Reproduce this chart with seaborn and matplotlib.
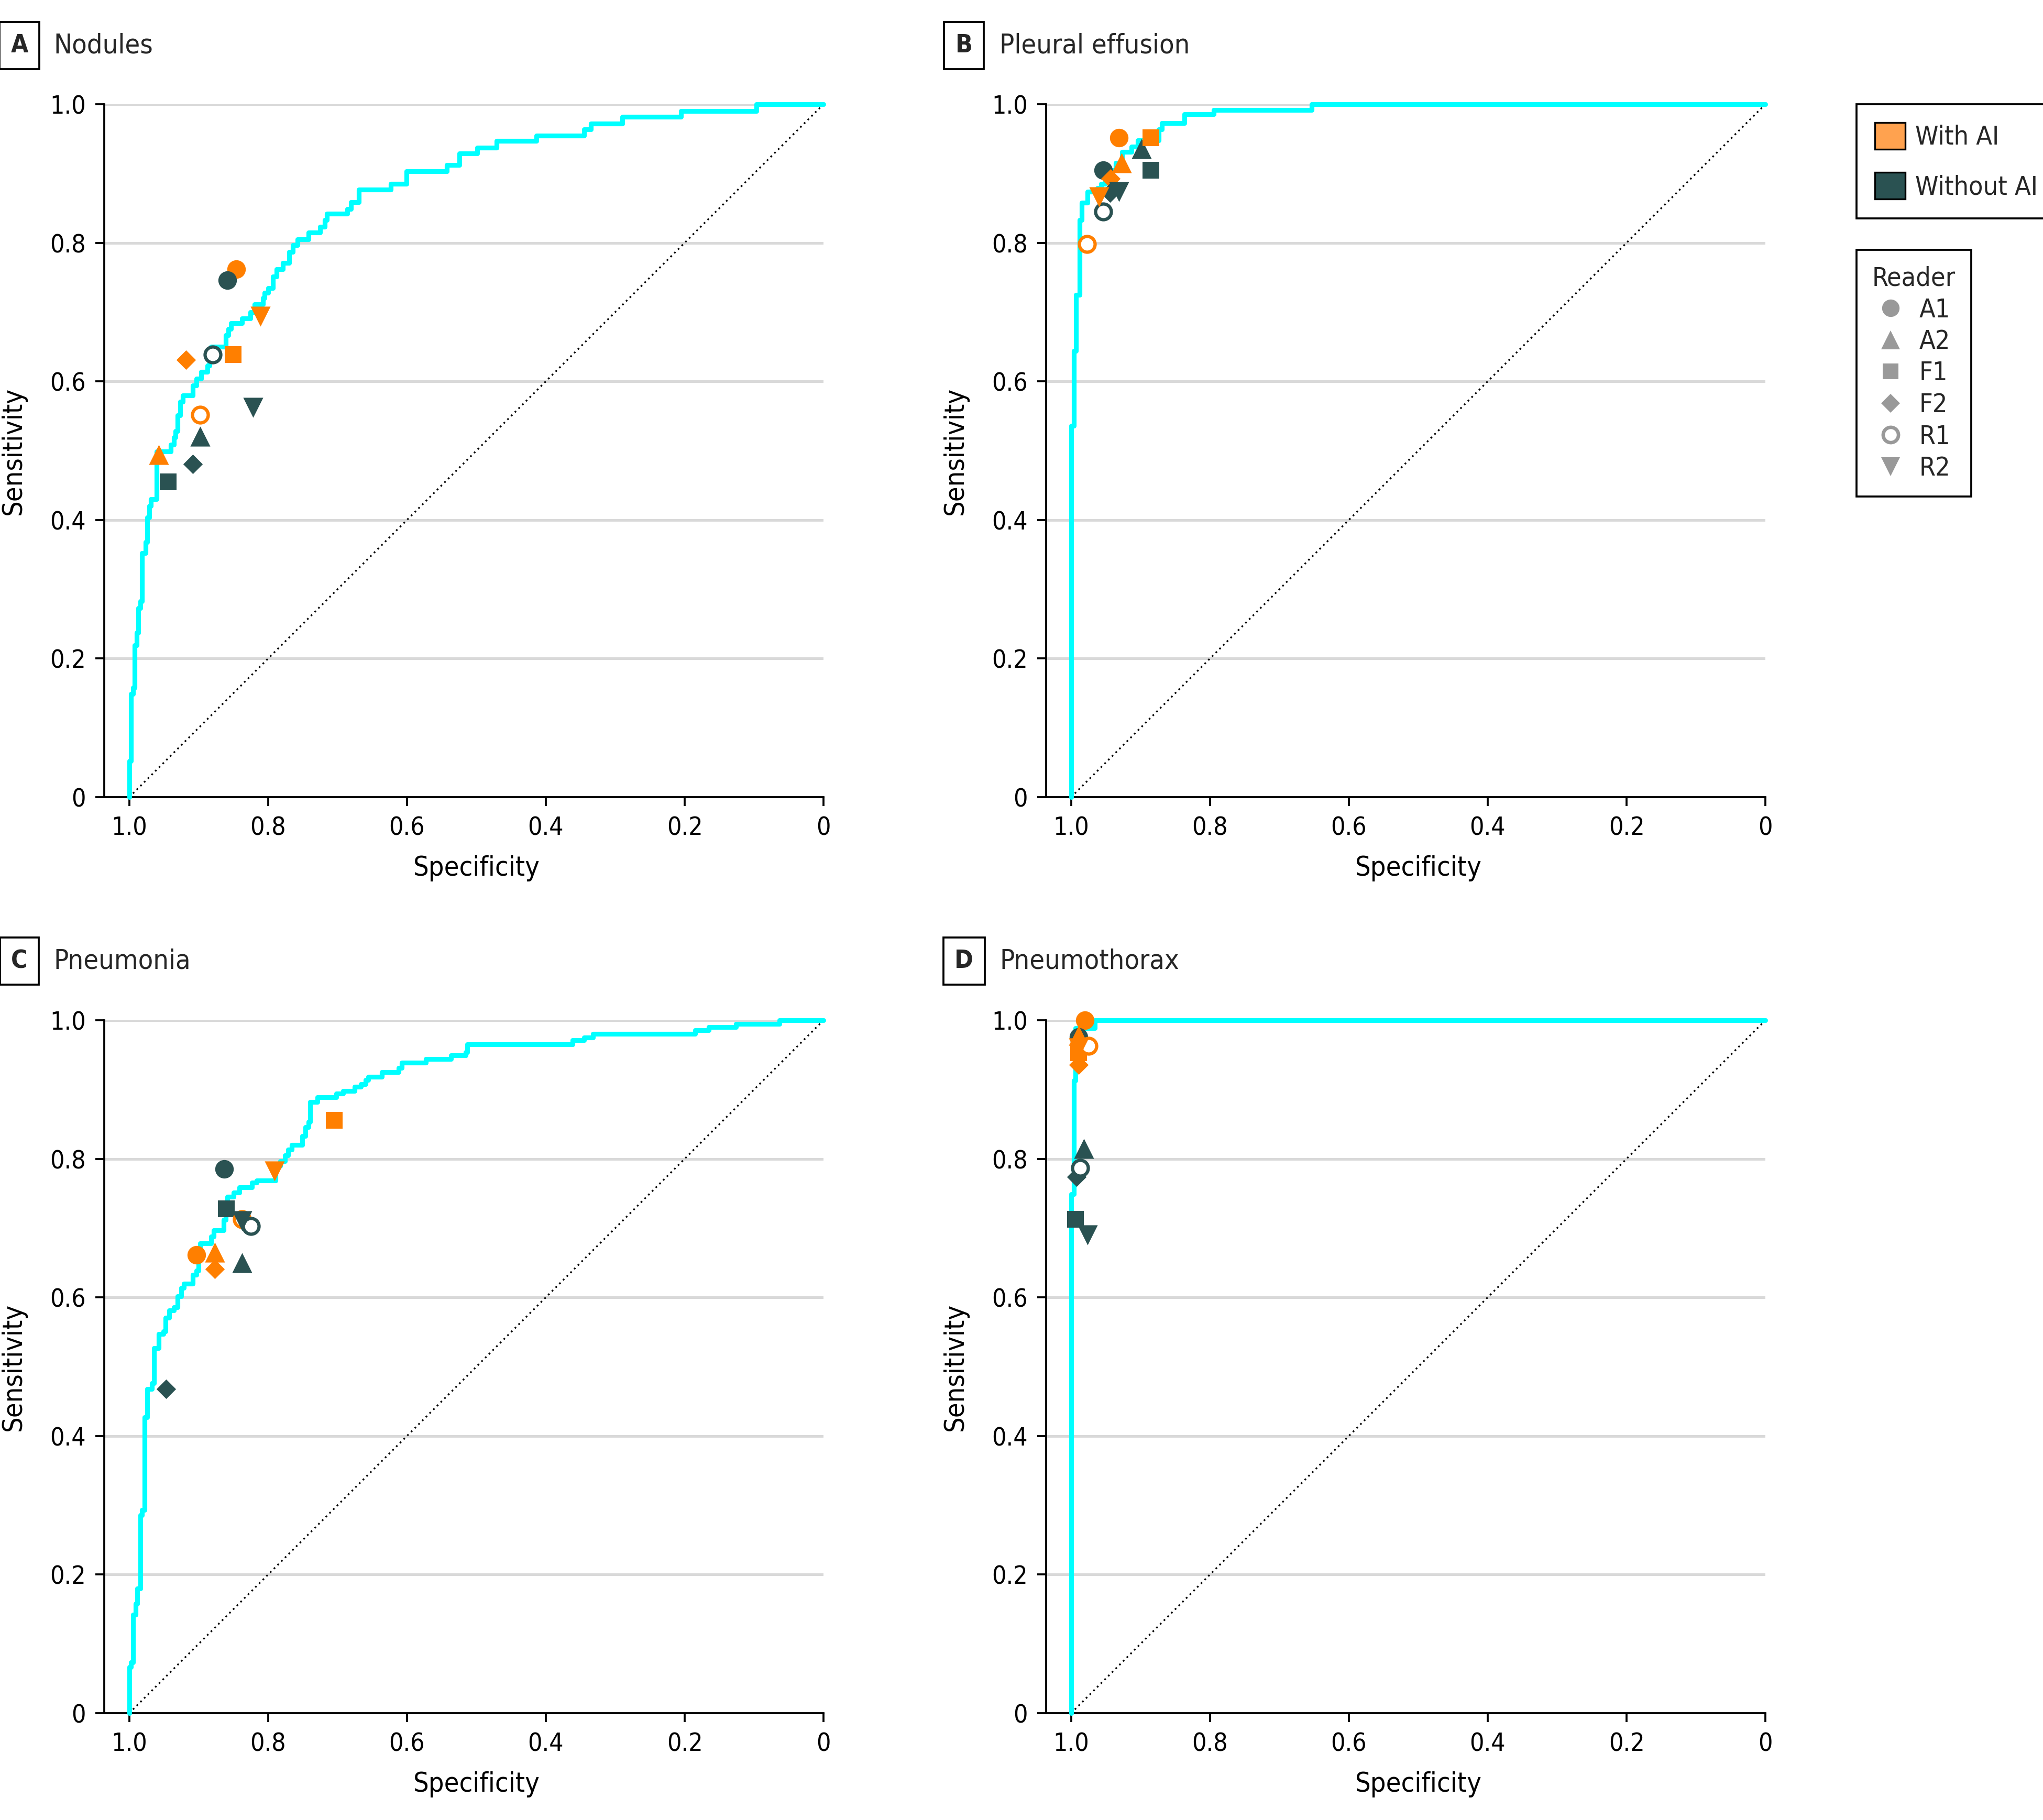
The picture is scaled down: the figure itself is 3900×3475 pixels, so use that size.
import numpy as np
import pandas as pd
import matplotlib
matplotlib.use("Agg")
import matplotlib.pyplot as plt
import seaborn as sns
from matplotlib.patches import Patch
from matplotlib.lines import Line2D
from matplotlib import font_manager as fm

# ---------------- data ----------------
panel_letters = ["A", "B", "C", "D"]
panel_titles = ["Nodules", "Pleural effusion", "Pneumonia", "Pneumothorax"]
readers = ["A1", "A2", "F1", "F2", "R1", "R2"]
groups = ["With AI", "Without AI"]

x_ticks = [1.0, 0.8, 0.6, 0.4, 0.2, 0.0]
x_tick_labels = ["1.0", "0.8", "0.6", "0.4", "0.2", "0"]
y_ticks = [0.0, 0.2, 0.4, 0.6, 0.8, 1.0]
y_tick_labels = ["0", "0.2", "0.4", "0.6", "0.8", "1.0"]

chance_spec = [1.0, 0.0]
chance_sens = [0.0, 1.0]

# ROC curves (specificity, sensitivity) - at each specificity the curve rises to sensitivity
nodules_spec = [1.0, 1.0, 0.9974, 0.9948, 0.9921, 0.9895, 0.9869, 0.9843, 0.9817, 0.9764,
                0.9738, 0.9712, 0.9686, 0.9607, 0.9398, 0.9358, 0.9332, 0.9306, 0.9267, 0.9227,
                0.9083, 0.9031, 0.8965, 0.8874, 0.8847, 0.8821, 0.8612, 0.8572, 0.8533, 0.8376,
                0.8258, 0.8193, 0.8075, 0.8048, 0.7996, 0.7931, 0.7878, 0.7787, 0.7695, 0.7642,
                0.7577, 0.7420, 0.7250, 0.7184, 0.7151, 0.6857, 0.6804, 0.6693, 0.6234, 0.6005,
                0.5429, 0.5246, 0.4984, 0.4709, 0.4132, 0.3451, 0.3353, 0.2895, 0.2056, 0.0963, 0.0]
nodules_sens = [0.0, 0.052, 0.149, 0.158, 0.219, 0.237, 0.273, 0.283, 0.352, 0.368,
                0.404, 0.420, 0.430, 0.499, 0.509, 0.519, 0.528, 0.551, 0.571, 0.580,
                0.594, 0.604, 0.614, 0.623, 0.630, 0.650, 0.667, 0.676, 0.684, 0.691,
                0.700, 0.711, 0.720, 0.728, 0.735, 0.751, 0.762, 0.771, 0.787, 0.797,
                0.805, 0.815, 0.823, 0.833, 0.842, 0.849, 0.859, 0.877, 0.885, 0.903,
                0.912, 0.929, 0.937, 0.947, 0.955, 0.964, 0.972, 0.982, 0.990, 1.0, 1.0]

effusion_spec = [1.0, 1.0, 0.9960, 0.9931, 0.9879, 0.9844, 0.9763, 0.9619, 0.9567, 0.9504,
                 0.9417, 0.9360, 0.9267, 0.9129, 0.9042, 0.8740, 0.8696, 0.8365, 0.7946, 0.6533, 0.0]
effusion_sens = [0.0, 0.536, 0.644, 0.725, 0.833, 0.858, 0.874, 0.879, 0.885, 0.895,
                 0.905, 0.915, 0.931, 0.939, 0.948, 0.964, 0.973, 0.986, 0.992, 1.0, 1.0]

pneumonia_spec = [1.0, 1.0, 0.9974, 0.9948, 0.9908, 0.9882, 0.9843, 0.9817, 0.9777, 0.9738,
                  0.9673, 0.9640, 0.9574, 0.9509, 0.9476, 0.9424, 0.9358, 0.9306, 0.9253, 0.9214,
                  0.9083, 0.9031, 0.9005, 0.8978, 0.8821, 0.8782, 0.8638, 0.8612, 0.8585, 0.8494,
                  0.8415, 0.8232, 0.8166, 0.7891, 0.7826, 0.7760, 0.7708, 0.7656, 0.7511, 0.7459,
                  0.7420, 0.7394, 0.7289, 0.7014, 0.6922, 0.6752, 0.6660, 0.6595, 0.6555, 0.6359,
                  0.6123, 0.6071, 0.5730, 0.5363, 0.5154, 0.5128, 0.3615, 0.3451, 0.3320, 0.1847,
                  0.1650, 0.1257, 0.0635, 0.0]
pneumonia_sens = [0.0, 0.0668, 0.0733, 0.142, 0.158, 0.180, 0.286, 0.293, 0.427, 0.468,
                  0.476, 0.527, 0.547, 0.551, 0.571, 0.581, 0.586, 0.602, 0.614, 0.620,
                  0.633, 0.639, 0.653, 0.678, 0.688, 0.697, 0.712, 0.730, 0.745, 0.751,
                  0.759, 0.766, 0.769, 0.790, 0.797, 0.805, 0.813, 0.820, 0.833, 0.846,
                  0.853, 0.882, 0.889, 0.894, 0.898, 0.904, 0.908, 0.914, 0.918, 0.925,
                  0.931, 0.939, 0.944, 0.949, 0.954, 0.965, 0.971, 0.975, 0.980, 0.986,
                  0.990, 0.995, 1.0, 1.0]

pneumothorax_spec = [1.0, 1.0, 0.9962, 0.9937, 0.9655, 0.0]
pneumothorax_sens = [0.0, 0.749, 0.913, 0.989, 1.0, 1.0]

# Reader operating points (order: A1, A2, F1, F2, R1, R2)
nodules_with_spec = [0.8455, 0.9574, 0.8507, 0.9181, 0.8978, 0.8114]
nodules_with_sens = [0.762, 0.494, 0.639, 0.631, 0.552, 0.694]
nodules_without_spec = [0.8585, 0.8978, 0.9443, 0.9083, 0.8795, 0.8219]
nodules_without_sens = [0.746, 0.521, 0.455, 0.481, 0.639, 0.5625]

effusion_with_spec = [0.9308, 0.9273, 0.8849, 0.9432, 0.9769, 0.9596]
effusion_with_sens = [0.952, 0.915, 0.952, 0.893, 0.798, 0.866]
effusion_without_spec = [0.9539, 0.8990, 0.8849, 0.9440, 0.9539, 0.9308]
effusion_without_sens = [0.905, 0.936, 0.905, 0.872, 0.845, 0.874]

pneumonia_with_spec = [0.9031, 0.8769, 0.7047, 0.8769, 0.8376, 0.7904]
pneumonia_with_sens = [0.661, 0.665, 0.856, 0.641, 0.713, 0.7826]
pneumonia_without_spec = [0.8631, 0.8376, 0.8605, 0.9470, 0.8245, 0.8376]
pneumonia_without_sens = [0.785, 0.650, 0.7276, 0.4676, 0.7033, 0.7105]

pneumothorax_with_spec = [0.9804, 0.9892, 0.9892, 0.9892, 0.9749, 0.9892]
pneumothorax_with_sens = [1.0, 0.978, 0.953, 0.936, 0.963, 0.960]
pneumothorax_without_spec = [0.9892, 0.9817, 0.9937, 0.9925, 0.9866, 0.9766]
pneumothorax_without_sens = [0.976, 0.8146, 0.7125, 0.774, 0.787, 0.690]

curves = [(nodules_spec, nodules_sens), (effusion_spec, effusion_sens),
          (pneumonia_spec, pneumonia_sens), (pneumothorax_spec, pneumothorax_sens)]
points = [
    ((nodules_with_spec, nodules_with_sens), (nodules_without_spec, nodules_without_sens)),
    ((effusion_with_spec, effusion_with_sens), (effusion_without_spec, effusion_without_sens)),
    ((pneumonia_with_spec, pneumonia_with_sens), (pneumonia_without_spec, pneumonia_without_sens)),
    ((pneumothorax_with_spec, pneumothorax_with_sens), (pneumothorax_without_spec, pneumothorax_without_sens)),
]

# ---------------- style ----------------
ORANGE = "#FF7F00"
DARK = "#2A5252"
CYAN = "#00FFFF"
GRID = "#D9D9D9"
group_colors = {"With AI": ORANGE, "Without AI": DARK}
legend_patch_colors = {"With AI": "#FFA24F", "Without AI": DARK}
marker_map = {"A1": "o", "A2": "^", "F1": "s", "F2": "D", "R1": "o", "R2": "v"}
size_map = {"A1": 72, "A2": 84, "F1": 60, "F2": 40, "R1": 52, "R2": 84}

sns.set_theme(style="white")

available = {(f.name, f.stretch) for f in fm.fontManager.ttflist}
fam_names = {f.name for f in fm.fontManager.ttflist}
if ("DejaVu Sans", "condensed") in available:
    plt.rcParams["font.family"] = ["DejaVu Sans"]
    plt.rcParams["font.stretch"] = "condensed"
elif "DejaVu Sans Condensed" in fam_names:
    plt.rcParams["font.family"] = ["DejaVu Sans Condensed", "DejaVu Sans"]
elif "Liberation Sans Narrow" in fam_names:
    plt.rcParams["font.family"] = ["Liberation Sans Narrow", "DejaVu Sans"]
else:
    plt.rcParams["font.family"] = ["Liberation Sans", "DejaVu Sans"]

W, H = 3900, 3475
fig = plt.figure(figsize=(W / 300, H / 300), dpi=300)

ax_w = 1373 / W
ax_h = 1323 / H
lefts = [199 / W, 1997 / W, 199 / W, 1997 / W]
bottoms = [1 - 1522 / H, 1 - 1522 / H, 1 - 3271 / H, 1 - 3271 / H]
label_box_x = [37, 1840, 37, 1840]
label_y = [87, 87, 1835, 1835]
title_x = [102, 1908, 102, 1908]

for i in range(4):
    ax = fig.add_axes([lefts[i], bottoms[i], ax_w, ax_h])
    ax.set_axisbelow(True)
    ax.yaxis.grid(True, color=GRID, linewidth=1.2)
    ax.xaxis.grid(False)

    # chance line
    sns.lineplot(x=chance_spec, y=chance_sens, ax=ax, color="black", linestyle=(0, (1, 2)),
                 linewidth=0.8, sort=False, estimator=None, legend=False)

    # ROC curve
    spec, sens = curves[i]
    sns.lineplot(x=spec, y=sens, ax=ax, color=CYAN, linewidth=2.2, sort=False,
                 estimator=None, drawstyle="steps-post", legend=False, clip_on=False, zorder=3)

    # readers
    (ws, wse), (os_, ose) = points[i]
    grp_data = {"With AI": (ws, wse), "Without AI": (os_, ose)}
    for k, r in enumerate(readers):
        for g in groups:
            xs, ys = grp_data[g]
            col = group_colors[g]
            if r == "R1":
                sns.scatterplot(x=[xs[k]], y=[ys[k]], ax=ax, marker="o", s=size_map[r],
                                color=col, facecolor="white", edgecolor=col, linewidth=1.5,
                                legend=False, clip_on=False, zorder=5)
            else:
                sns.scatterplot(x=[xs[k]], y=[ys[k]], ax=ax, marker=marker_map[r], s=size_map[r],
                                color=col, linewidth=0, legend=False, clip_on=False, zorder=5)

    ax.set_xlim(1.036, 0.0)
    ax.set_ylim(0.0, 1.0)
    ax.set_xticks(x_ticks)
    ax.set_xticklabels(x_tick_labels)
    ax.set_yticks(y_ticks)
    ax.set_yticklabels(y_tick_labels)
    ax.tick_params(axis="both", direction="out", length=4, width=0.9, labelsize=11.5,
                   color="black", labelcolor="black", pad=4.5, bottom=True, left=True)
    for side in ["top", "right"]:
        ax.spines[side].set_visible(False)
    for side in ["left", "bottom"]:
        ax.spines[side].set_visible(True)
        ax.spines[side].set_color("black")
        ax.spines[side].set_linewidth(0.9)
    ax.set_xlabel("Specificity", fontsize=12.5, color="black")
    ax.set_ylabel("Sensitivity", fontsize=12.5, color="black")
    ax.xaxis.set_label_coords(0.518, -0.084)
    ax.yaxis.set_label_coords(-0.108, 0.5)

    # panel label and title
    fig.text(label_box_x[i] / W, 1 - label_y[i] / H, panel_letters[i], fontsize=11.5,
             fontweight="bold", ha="center", va="center",
             bbox=dict(boxstyle="square,pad=0.45", fc="white", ec="black", lw=0.9))
    fig.text(title_x[i] / W, 1 - label_y[i] / H, panel_titles[i], fontsize=12.5,
             ha="left", va="center")

# legends
group_handles = [Patch(facecolor=legend_patch_colors[g], edgecolor="black", linewidth=0.8)
                 for g in groups]
leg1 = fig.legend(group_handles, groups, loc="upper left",
                  bbox_to_anchor=(3544 / W, 1 - 199 / H), fontsize=12, frameon=True,
                  fancybox=False, edgecolor="black", framealpha=1, handlelength=1.15,
                  handleheight=1.2, labelspacing=0.85, borderpad=0.7, handletextpad=0.4,
                  borderaxespad=0)
leg1.get_frame().set_linewidth(0.9)

reader_handles = []
for r in readers:
    if r == "R1":
        reader_handles.append(Line2D([], [], linestyle="none", marker="o", markersize=7,
                                     markerfacecolor="white", markeredgecolor="#999999",
                                     markeredgewidth=1.6))
    else:
        ms = {"A1": 8, "A2": 8.5, "F1": 7.2, "F2": 6, "R2": 8.5}[r]
        reader_handles.append(Line2D([], [], linestyle="none", marker=marker_map[r],
                                     markersize=ms, markerfacecolor="#999999",
                                     markeredgecolor="#999999", markeredgewidth=0))
leg2 = fig.legend(reader_handles, readers, title="Reader", loc="upper left",
                  bbox_to_anchor=(3544 / W, 1 - 477 / H), fontsize=12, title_fontsize=12,
                  frameon=True, fancybox=False, edgecolor="black", framealpha=1,
                  labelspacing=0.25, borderpad=0.6, handletextpad=0.6, handlelength=1.0,
                  borderaxespad=0)
leg2.get_frame().set_linewidth(0.9)

fig.savefig("out.png", dpi=300, facecolor="white")
